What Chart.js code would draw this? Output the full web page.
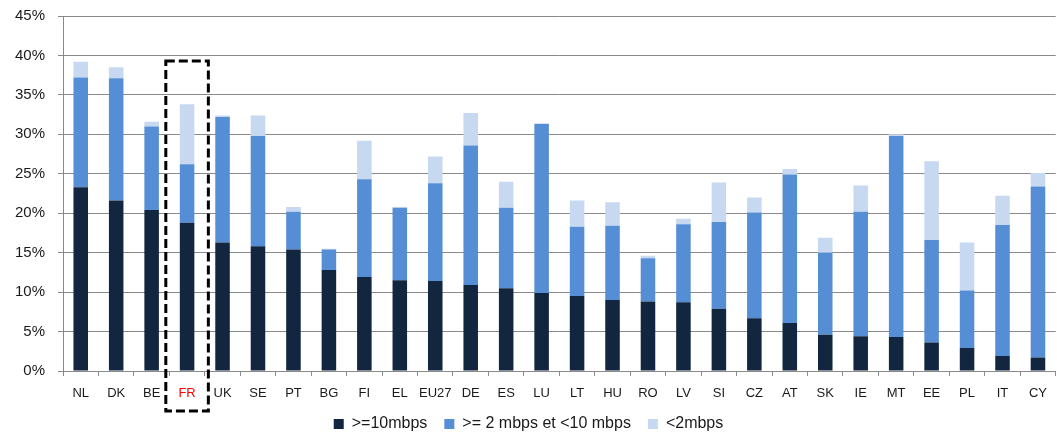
<!DOCTYPE html>
<html>
<head>
<meta charset="utf-8">
<script src="https://cdn.jsdelivr.net/npm/chart.js@4"></script>
<style>
  html, body { margin: 0; padding: 0; background: #fff; overflow: hidden; }
  #wrap { width: 1057px; height: 433px; }
</style>
</head>
<body>
<div id="wrap"><canvas id="speedChart"></canvas></div>
<script>
const countries = [
  'NL', 'DK', 'BE', 'FR', 'UK', 'SE', 'PT', 'BG', 'FI', 'EL', 'EU27', 'DE', 'ES', 'LU',
  'LT', 'HU', 'RO', 'LV', 'SI', 'CZ', 'AT', 'SK', 'IE', 'MT', 'EE', 'PL', 'IT', 'CY'
];

// share of lines per speed band (%), stacked
const fast = [23.3, 21.6, 20.4, 18.8, 16.3, 15.8, 15.4, 12.8, 11.9, 11.5, 11.4, 10.9, 10.5, 9.9,
  9.5, 9.0, 8.8, 8.7, 7.9, 6.7, 6.1, 4.6, 4.4, 4.3, 3.6, 2.9, 1.9, 1.7];
const medium = [13.9, 15.5, 10.6, 7.4, 15.9, 14.0, 4.8, 2.6, 12.4, 9.2, 12.4, 17.7, 10.2, 21.4,
  8.8, 9.4, 5.5, 9.9, 11.0, 13.4, 18.8, 10.4, 15.8, 25.5, 13.0, 7.3, 16.6, 21.7];
const slow = [2.0, 1.4, 0.6, 7.6, 0.2, 2.6, 0.6, 0.1, 4.9, 0.1, 3.4, 4.1, 3.3, 0.1,
  3.3, 3.0, 0.3, 0.7, 5.0, 1.9, 0.7, 1.9, 3.3, 0.2, 10.0, 6.1, 3.7, 1.7];

const yTicks = [0, 5, 10, 15, 20, 25, 30, 35, 40, 45];
const highlight = 'FR';
const highlightTop = 39.3;

const fontFamily = '"Liberation Sans", Arial, sans-serif';
const gridColor = '#8a8a8a';

const highlightBox = {
  id: 'highlightBox',
  afterDraw(chart) {
    const { ctx, scales: { x, y }, chartArea } = chart;
    const i = countries.indexOf(highlight);
    const cx = x.getPixelForValue(i);
    const half = x.width / countries.length * 0.6;
    const top = y.getPixelForValue(highlightTop);
    const bottom = chartArea.bottom + 40;
    ctx.save();
    ctx.strokeStyle = '#000';
    ctx.lineWidth = 3;
    ctx.setLineDash([9, 4]);
    ctx.strokeRect(cx - half, top, half * 2, bottom - top);
    ctx.restore();
  }
};

const ctx = document.getElementById('speedChart').getContext('2d');

new Chart(ctx, {
  type: 'bar',
  data: {
    labels: countries,
    datasets: [
      { label: '>=10mbps', data: fast, backgroundColor: '#12263F' },
      { label: '>= 2 mbps et <10 mbps', data: medium, backgroundColor: '#558ED5' },
      { label: '<2mbps', data: slow, backgroundColor: '#C6D9F1' }
    ]
  },
  options: {
    responsive: true,
    maintainAspectRatio: false,
    animation: false,
    layout: { padding: { left: -11, right: -11, top: 16, bottom: -9 } },
    datasets: {
      bar: { barPercentage: 0.41, categoryPercentage: 1 }
    },
    plugins: {
      title: { display: false },
      tooltip: { enabled: false },
      legend: {
        position: 'bottom',
        labels: {
          boxWidth: 10,
          boxHeight: 10,
          padding: 17,
          color: '#1a1a1a',
          font: { family: fontFamily, size: 16 }
        }
      }
    },
    scales: {
      x: {
        stacked: true,
        afterFit(scale) { scale.height = 28; },
        grid: {
          offset: true,
          drawOnChartArea: false,
          drawTicks: true,
          tickLength: 5,
          color: gridColor
        },
        border: { color: gridColor },
        ticks: {
          padding: 10,
          maxRotation: 0,
          autoSkip: false,
          color: c => countries[c.index] === highlight ? '#ff0000' : '#1a1a1a',
          font: { family: fontFamily, size: 13 }
        }
      },
      y: {
        stacked: true,
        min: 0,
        max: 45,
        afterFit(scale) {
          scale.width = 74;
          scale.paddingTop = 0;
          scale.paddingBottom = 0;
        },
        afterBuildTicks(scale) { scale.ticks = yTicks.map(v => ({ value: v })); },
        grid: { color: gridColor, tickLength: 5 },
        border: { color: gridColor },
        ticks: {
          padding: 13,
          color: '#1a1a1a',
          font: { family: fontFamily, size: 15 },
          callback: v => v + '%'
        }
      }
    }
  },
  plugins: [highlightBox]
});
</script>
</body>
</html>
